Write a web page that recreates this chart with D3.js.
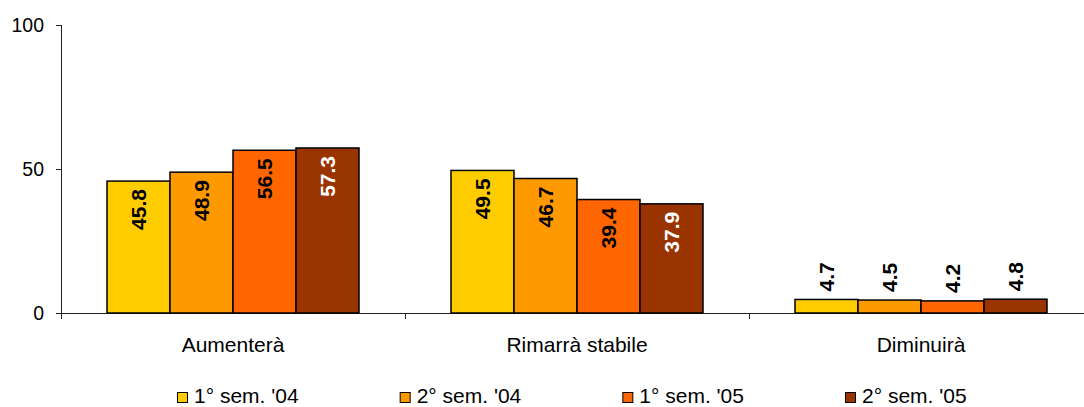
<!DOCTYPE html>
<html>
<head>
<meta charset="utf-8">
<script src="https://cdn.jsdelivr.net/npm/d3@7/dist/d3.min.js"></script>
<style>
  html, body { margin: 0; padding: 0; background: #fff; }
  svg { display: block; font-family: "Liberation Sans", Arial, sans-serif; }
</style>
</head>
<body>
<svg id="chart" width="1084" height="407"></svg>
<script>
// Expectations by category, one series per half-year survey
const categories = ["Aumenterà", "Rimarrà stabile", "Diminuirà"];
const seriesNames = ["1° sem. '04", "2° sem. '04", "1° sem. '05", "2° sem. '05"];
const sem1_04 = [45.8, 49.5, 4.7];
const sem2_04 = [48.9, 46.7, 4.5];
const sem1_05 = [56.5, 39.4, 4.2];
const sem2_05 = [57.3, 37.9, 4.8];
const seriesValues = [sem1_04, sem2_04, sem1_05, sem2_05];
const yTicks = [0, 50, 100];

const colors = ["#FFCC00", "#FF9900", "#FF6600", "#993300"];
const labelColors = ["#000", "#000", "#000", "#fff"];

const svg = d3.select("#chart");
const plotLeft = 61, plotRight = 1093, plotTop = 25, plotBottom = 313;

const x = d3.scaleBand().domain(categories).range([plotLeft, plotRight]).paddingInner(0).paddingOuter(0);
const y = d3.scaleLinear().domain([0, 100]).range([plotBottom, plotTop]);
const groupPad = 46;
const xs = d3.scaleBand().domain(seriesNames)
  .range([groupPad, x.bandwidth() - groupPad]).padding(0);

// Y axis
const yAxis = svg.append("g")
  .attr("transform", `translate(${plotLeft},0)`)
  .call(d3.axisLeft(y).tickValues(yTicks).tickSize(5).tickPadding(12).tickSizeOuter(0));
yAxis.select(".domain").remove();
yAxis.selectAll(".tick line").attr("stroke", "#222");
yAxis.selectAll(".tick text").attr("font-size", 19.5).attr("fill", "#000")
  .attr("font-family", "Liberation Sans, Arial, sans-serif");
svg.append("line")
  .attr("x1", plotLeft + 0.5).attr("x2", plotLeft + 0.5)
  .attr("y1", plotTop).attr("y2", plotBottom + 6)
  .attr("stroke", "#222");

// Category axis: boundary ticks and centred labels
const bounds = d3.scaleLinear().domain([0, categories.length]).range([plotLeft, plotRight]);
const xb = svg.append("g")
  .attr("transform", `translate(0,${plotBottom})`)
  .call(d3.axisBottom(bounds).tickValues(d3.range(1, categories.length)).tickSize(6).tickFormat(""));
xb.select(".domain").remove();
xb.selectAll(".tick line").attr("stroke", "#222");

svg.append("line")
  .attr("x1", plotLeft - 5).attr("x2", 1084)
  .attr("y1", plotBottom + 0.5).attr("y2", plotBottom + 0.5)
  .attr("stroke", "#222");

const xl = svg.append("g")
  .attr("transform", `translate(0,${plotBottom})`)
  .call(d3.axisBottom(x).tickSize(0).tickPadding(24));
xl.select(".domain").remove();
xl.selectAll(".tick text").attr("font-size", 21).attr("fill", "#000")
  .attr("font-family", "Liberation Sans, Arial, sans-serif");

// Bars
const groups = svg.append("g").selectAll("g")
  .data(categories)
  .join("g")
  .attr("transform", d => `translate(${x(d)},0)`);

groups.each(function(cat, ci) {
  const g = d3.select(this);
  seriesNames.forEach((s, si) => {
    const v = seriesValues[si][ci];
    g.append("rect")
      .attr("x", xs(s))
      .attr("y", y(v))
      .attr("width", xs.bandwidth())
      .attr("height", y(0) - y(v))
      .attr("fill", colors[si])
      .attr("stroke", "#000")
      .attr("stroke-width", 1.5);
  });
  seriesNames.forEach((s, si) => {
    const v = seriesValues[si][ci];
    const cx = xs(s) + xs.bandwidth() / 2;
    const inside = v > 20;
    const ty = inside ? y(v) + 8 : y(v) - 8;
    g.append("text")
      .attr("transform", `translate(${cx},${ty}) rotate(-90)`)
      .attr("text-anchor", inside ? "end" : "start")
      .attr("dominant-baseline", "central")
      .attr("font-size", 21)
      .attr("font-weight", "bold")
      .attr("fill", inside ? labelColors[si] : "#000")
      .text(v.toFixed(1));
  });
});

// Legend
const legendX = d3.scaleLinear().domain([0, seriesNames.length - 1]).range([177, 845]);
const legend = svg.append("g").selectAll("g")
  .data(seriesNames)
  .join("g")
  .attr("transform", (d, i) => `translate(${legendX(i)},392)`);
legend.append("rect")
  .attr("x", 0.5).attr("y", 0.5)
  .attr("width", 10).attr("height", 10)
  .attr("fill", (d, i) => colors[i])
  .attr("stroke", "#000").attr("stroke-width", 1);
legend.append("text")
  .attr("x", 17).attr("y", 10.5)
  .attr("font-size", 21)
  .attr("fill", "#000")
  .text(d => d);
</script>
</body>
</html>
